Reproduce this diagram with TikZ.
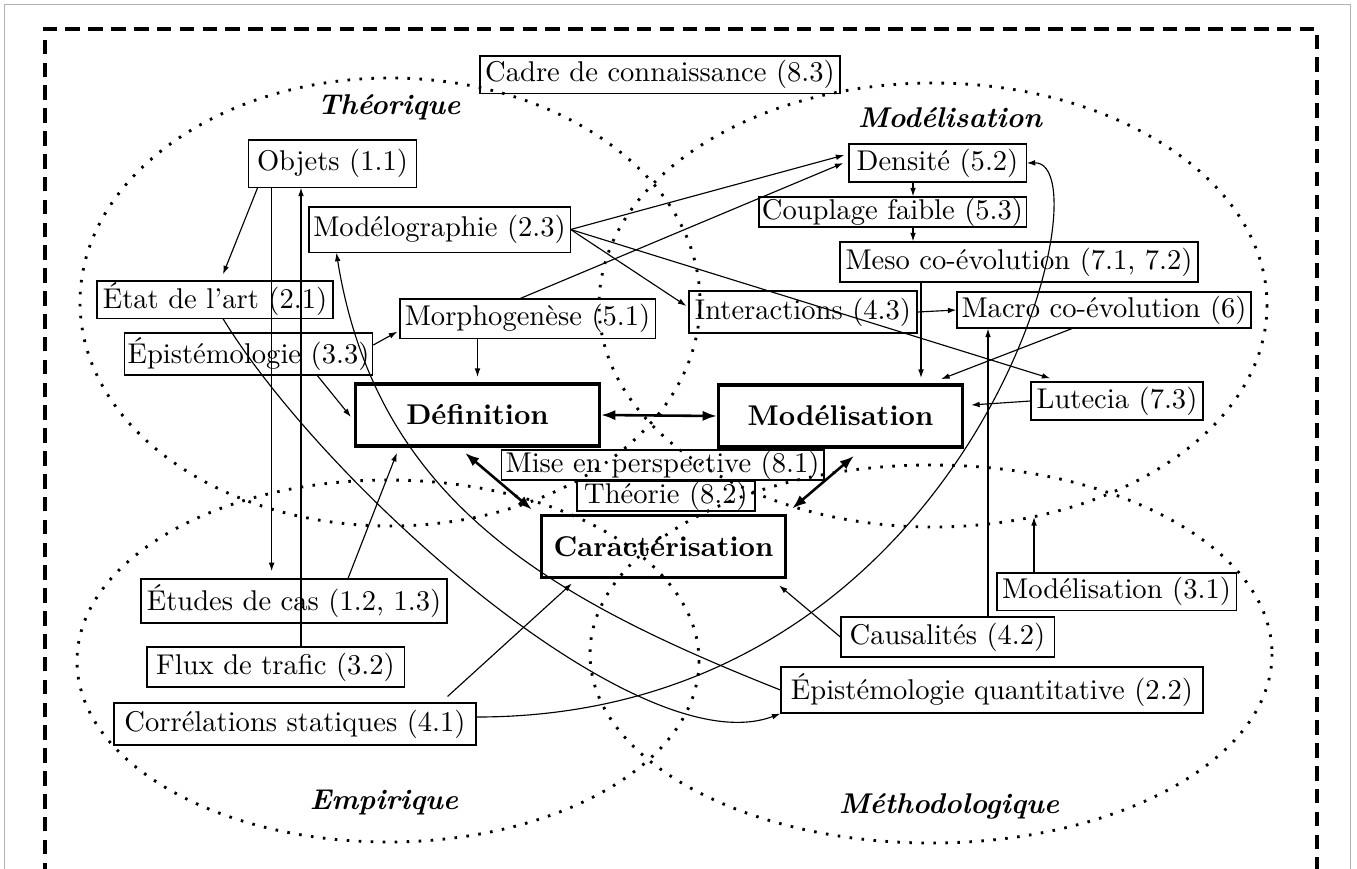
\documentclass[tikz,border=0pt]{standalone}
\usepackage{tikz}
\usetikzlibrary{arrows.meta,positioning,calc}
\tikzset{
  % plain section boxes
  box/.style={draw, line width=0.4pt, inner xsep=1pt, inner ysep=0.2pt},
  sz/.style 2 args={minimum width=#1, minimum height=#2},
  % the three main blocks
  mainbox/.style={draw, line width=1.2pt, font=\bfseries,
    minimum width=85.3pt, minimum height=21.8pt},
  % zone names and dotted zones
  zonelbl/.style={font=\bfseries\itshape},
  zone/.style={line width=1pt, dash pattern=on 0.9pt off 3.3pt},
  % connectors
  arr/.style={-{Latex[length=3pt,width=2pt]}, line width=0.4pt},
  dblarr/.style={{Latex[length=5pt,width=3.6pt]}-{Latex[length=5pt,width=3.6pt]}, line width=0.9pt},
  % outer frame
  frameln/.style={line width=1.1pt, dash pattern=on 5.1pt off 2.9pt},
}

\begin{document}
\begin{tikzpicture}[x=0.35pt, y=-0.35pt]
    \useasboundingbox (0,0) rectangle (1357,868);
    % frames
    \draw[gray!60, line width=0.35pt] (4.5,900) -- (4.5,4.5) -- (1350.5,4.5) -- (1350.5,900);
    \draw[frameln] (45,900) -- (45,29) -- (1317,29) -- (1317,900);
    % the four zones
    \draw[zone] (390,302) ellipse [x radius=310, y radius=224];
    \draw[zone] (933,305) ellipse [x radius=334, y radius=222];
    \draw[zone] (388,661) ellipse [x radius=311, y radius=181];
    \draw[zone] (931,654) ellipse [x radius=341, y radius=189];
    \node[zonelbl] (lblT) at (389,107) {Théorique};
    \node[zonelbl] (lblM) at (950,118) {Modélisation};
    \node[zonelbl] (lblE) at (384,803) {Empirique};
    \node[zonelbl] (lblMe) at (949,806) {Méthodologique};
    \coordinate (mEll) at (1034,517);
    % main blocks
    \node[mainbox] (def) at (477.5,415) {Définition};
    \node[mainbox] (mod) at (840.5,416) {Modélisation};
    \node[mainbox] (car) at (663.5,546.5) {Caractérisation};
    % sections
    \node[box, sz={126pt}{13pt}] (cadre) at (660,74.5) {Cadre de connaissance (8.3)};
    \node[box, sz={59pt}{16.5pt}] (objets) at (332.5,163.5) {Objets (1.1)};
    \node[box, sz={82.6pt}{13pt}] (etat) at (215,299.5) {État de l'art (2.1)};
    \node[box, sz={87pt}{14.7pt}] (episteme) at (248.5,354) {Épistémologie (3.3)};
    \node[box, sz={91.4pt}{15.8pt}] (modelo) at (439.5,229.5) {Modélographie (2.3)};
    \node[box, sz={89.3pt}{13.7pt}] (morpho) at (527.5,318.5) {Morphogenèse (5.1)};
    \node[box, sz={79.8pt}{14.7pt}] (inter) at (803,312) {Interactions (4.3)};
    \node[box, sz={62pt}{13.3pt}] (densite) at (937.5,163) {Densité (5.2)};
    \node[box, sz={93.5pt}{10.5pt}] (couplage) at (892.5,212) {Couplage faible (5.3)};
    \node[box, sz={125.3pt}{14pt}] (meso) at (1019,262) {Meso co-évolution (7.1, 7.2)};
    \node[box, sz={102.9pt}{12.6pt}] (macro) at (1104,310) {Macro co-évolution (6)};
    \node[box, sz={60.2pt}{13.3pt}] (lutecia) at (1117,401) {Lutecia (7.3)};
    \node[box, sz={113pt}{10.5pt}] (mise) at (662.5,465) {Mise en perspective (8.1)};
    \node[box, sz={62.3pt}{10.5pt}] (theorie) at (666,496) {Théorie (8.2)};
    \node[box, sz={74.6pt}{14pt}] (causal) at (947.5,637) {Causalités (4.2)};
    \node[box, sz={147.7pt}{16.1pt}] (epiq) at (992,690) {Épistémologie quantitative (2.2)};
    \node[box, sz={83.7pt}{13pt}] (modelis) at (1116.5,591.5) {Modélisation (3.1)};
    \node[box, sz={107.1pt}{15.4pt}] (etudes) at (294,601) {Études de cas (1.2, 1.3)};
    \node[box, sz={90pt}{14pt}] (flux) at (275.5,667) {Flux de trafic (3.2)};
    \node[box, sz={126.7pt}{14.7pt}] (correl) at (295,724) {Corrélations statiques (4.1)};
    % links between the main blocks
    \draw[dblarr] (def.east) -- (mod.west);
    \draw[dblarr] ([shift={(-12.5,5)}]def.south) -- ([shift={(-8,-4)}]car.north west);
    \draw[dblarr] ([shift={(13.5,7)}]mod.south) -- ([shift={(5,-5)}]car.north east);
    % theoretical side
    \draw[arr] ([shift={(10,0)}]objets.south west) -- ([shift={(8,-6)}]etat.north);
    \coordinate (objD) at ([shift={(24,0)}]objets.south west);
    \draw[arr, shorten >=2.5pt] (objD) -- (objD |- etudes.north);
    \coordinate (fluxU) at ([shift={(25.5,0)}]flux.north);
    \draw[arr] (fluxU) -- (fluxU |- objets.south);
    \draw[arr] ([shift={(8,0)}]etat.south) .. controls +(104,170) and +(-140,53) .. (epiq.south west);
    \draw[arr] (epiq.west) .. controls +(-232,-92) and +(40,248) .. ([shift={(28,0)}]modelo.south west);
    \draw[arr] ([shift={(0,-9)}]episteme.east) -- ([shift={(-2,-7)}]morpho.south west);
    \draw[arr] ([shift={(-56,0)}]episteme.south east) -- ([shift={(-3,2)}]def.west);
    \draw[arr, shorten >=1.8pt] (def.north |- morpho.south) -- (def.north);
    \draw[arr] ([shift={(54,0)}]etudes.north) -- ([shift={(43,5)}]def.south west);
    % towards the modelling side
    \draw[arr] (modelo.east) -- ([shift={(-4,-8)}]densite.west);
    \draw[arr] ([shift={(-7,0)}]morpho.north) -- ([shift={(-5,0)}]densite.west);
    \draw[arr] (modelo.east) -- ([shift={(-2,-6)}]inter.west);
    \draw[arr] (modelo.east) -- ([shift={(20,-3)}]lutecia.north west);
    \draw[arr] ([shift={(0,-7)}]correl.east) .. controls +(500,0) and +(83,-2) .. (densite.east);
    \coordinate (densD) at ([shift={(-24.5,0)}]densite.south);
    \draw[arr] (densD) -- (densD |- couplage.north);
    \draw[arr] (densD |- couplage.south) -- (densD |- meso.north);
    \coordinate (mesoD) at ([shift={(-98,0)}]meso.south);
    \draw[arr, shorten >=1.8pt] (mesoD) -- (mesoD |- mod.north);
    \draw[arr] (inter.east) -- (macro.west);
    \draw[arr] ([shift={(-32,0)}]macro.south) -- ([shift={(-23,-4)}]mod.north east);
    \draw[arr] (lutecia.west) -- ([shift={(7,-11)}]mod.east);
    % empirical and methodological side
    \draw[arr] ([shift={(-29,-6)}]correl.north east) -- ([shift={(32,4)}]car.south west);
    \draw[arr] (causal.west) -- ([shift={(-8,6)}]car.south east);
    \coordinate (causU) at ([shift={(40.5,0)}]causal.north);
    \draw[arr] (causU) -- (causU |- macro.south);
    \coordinate (mod31U) at ([shift={(-82.5,0)}]modelis.north);
    \draw[arr] (mod31U) -- (mod31U |- mEll);
  \end{tikzpicture}
\end{document}
